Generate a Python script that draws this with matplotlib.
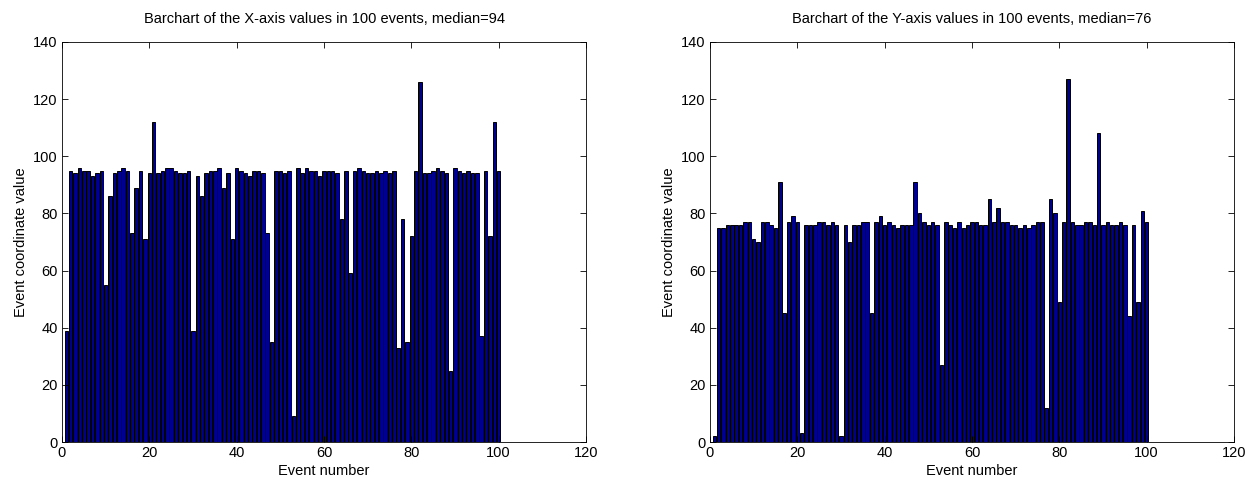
import numpy as np
import matplotlib
matplotlib.use("Agg")
import matplotlib.pyplot as plt

# values
x_values = [39, 95, 94, 96, 95, 95, 93, 94, 95, 55,
            86, 94, 95, 96, 95, 73, 89, 95, 71, 94,
            112, 94, 95, 96, 96, 95, 94, 94, 95, 39,
            93, 86, 94, 95, 95, 96, 89, 94, 71, 96,
            95, 94, 93, 95, 95, 94, 73, 35, 95, 95,
            94, 95, 9, 96, 94, 96, 95, 95, 93, 95,
            95, 95, 94, 78, 95, 59, 95, 96, 95, 94,
            94, 95, 94, 95, 94, 95, 33, 78, 35, 72,
            95, 126, 94, 94, 95, 96, 95, 94, 25, 96,
            95, 94, 95, 94, 94, 37, 95, 72, 112, 95]

y_values = [2, 75, 75, 76, 76, 76, 76, 77, 77, 71,
            70, 77, 77, 76, 75, 91, 45, 77, 79, 77,
            3, 76, 76, 76, 77, 77, 76, 77, 76, 2,
            76, 70, 76, 76, 77, 77, 45, 77, 79, 76,
            77, 76, 75, 76, 76, 76, 91, 80, 77, 76,
            77, 76, 27, 77, 76, 75, 77, 75, 76, 77,
            77, 76, 76, 85, 77, 82, 77, 77, 76, 76,
            75, 76, 75, 76, 77, 77, 12, 85, 80, 49,
            77, 127, 77, 76, 76, 77, 77, 76, 108, 76,
            77, 76, 76, 77, 76, 44, 76, 49, 81, 77]

titles = ["Barchart of the X-axis values in 100 events, median=94",
          "Barchart of the Y-axis values in 100 events, median=76"]

plt.rcParams['font.family'] = ['Liberation Sans', 'DejaVu Sans']

fig = plt.figure(figsize=(12.45, 4.82), dpi=100)
ax1 = fig.add_axes([62/1245, 40/482, 524/1245, 400/482])
ax2 = fig.add_axes([710/1245, 40/482, 524/1245, 400/482])

events = np.arange(1, 101)
for ax, vals, title in zip([ax1, ax2], [x_values, y_values], titles):
    ax.bar(events, vals, width=0.8, color=(0, 0, 0.5625),
           edgecolor='black', linewidth=0.7)
    ax.set_xlim(0, 120)
    ax.set_ylim(0, 140)
    ax.set_xticks(range(0, 121, 20))
    ax.set_yticks(range(0, 141, 20))
    ax.tick_params(direction='in', top=True, right=True, length=4,
                   labelsize=10.5, width=0.6, pad=3)
    for s in ax.spines.values():
        s.set_linewidth(0.6)
    ax.set_title(title, fontsize=10.5, pad=14)
    ax.set_xlabel("Event number", fontsize=10.5, labelpad=3)
    ax.set_ylabel("Event coordinate value", fontsize=10.5, labelpad=4)

fig.savefig("out.png", dpi=100)
